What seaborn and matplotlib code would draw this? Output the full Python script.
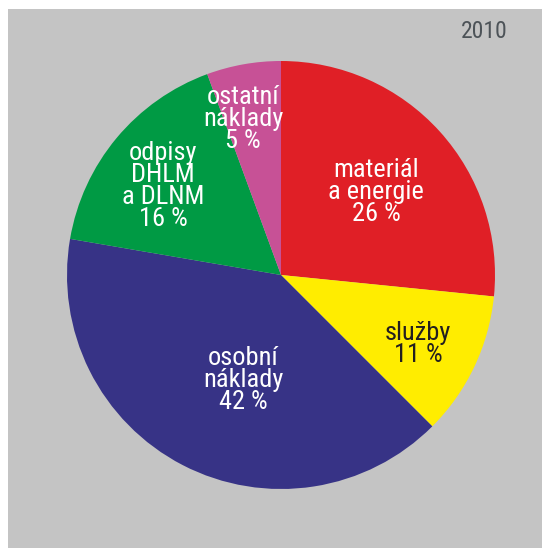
import matplotlib
matplotlib.use("Agg")
import matplotlib.pyplot as plt
import seaborn as sns
from matplotlib.patches import Rectangle

# Data (shares; labels as printed)
categories = ["materiál\na energie", "služby", "osobní\nnáklady", "odpisy\nDHLM\na DLNM", "ostatní\nnáklady"]
shares = [26.6, 10.9, 40.2, 16.7, 5.6]
pct_labels = ["26 %", "11 %", "42 %", "16 %", "5 %"]
colors = ["#e01f26", "#ffed00", "#373386", "#009a44", "#c75196"]
text_colors = ["white", "#231f20", "white", "white", "white"]
year = "2010"

sns.set_theme(style="white")
plt.rcParams["font.family"] = ["Roboto Condensed", "DejaVu Sans"]

W, H = 542, 548
fig = plt.figure(figsize=(W / 100, H / 100), dpi=100)
fig.patch.set_facecolor("white")
ax = fig.add_axes([0, 0, 1, 1])

ax.add_patch(Rectangle((7.5, 0), W - 7.5, H - 8.5, facecolor="#c4c4c4", edgecolor="none", zorder=0))

pal = sns.color_palette(colors)
cx, cy, r = 281, H - 275, 214
ax.pie(shares, colors=pal, startangle=90, counterclock=False,
       center=(cx, cy), radius=r, frame=True,
       wedgeprops=dict(linewidth=0, zorder=1))
ax.set_xlim(0, W)
ax.set_ylim(0, H)
ax.set_aspect("equal")
ax.axis("off")

# label positions in pixels (centre of text block)
pos = [(376, 192), (418, 344), (243, 380), (163, 186), (243, 119)]
for cat, pct, (px, py), tc in zip(categories, pct_labels, pos, text_colors):
    ax.text(px, H - py, cat + "\n" + pct, ha="center", va="center",
            fontsize=19, color=tc, linespacing=0.9, zorder=3)

ax.text(508, H - 32, year, ha="right", va="center", fontsize=17, color="#4d5358", zorder=3)

fig.savefig("out.png", dpi=100, facecolor=fig.get_facecolor())
